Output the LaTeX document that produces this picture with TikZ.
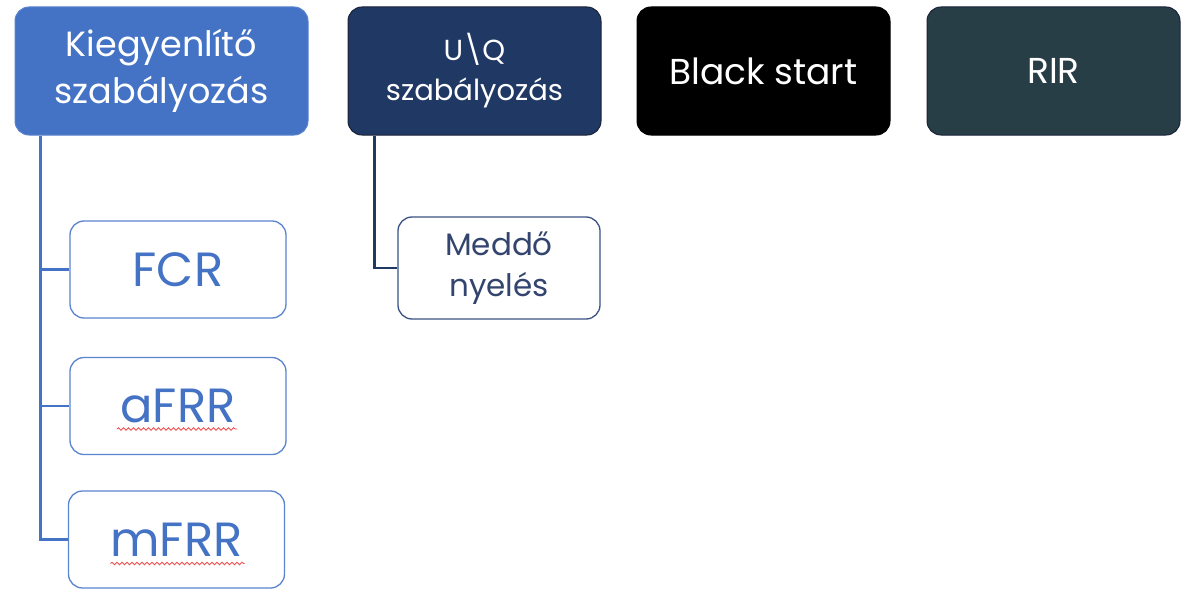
\documentclass[tikz,border=0pt]{standalone}
\usepackage{fontspec}
\setmainfont{Poppins}
\usetikzlibrary{decorations.pathmorphing}
\definecolor{cblue}{HTML}{4472C4}
\definecolor{cblueb}{HTML}{5A84CE}
\definecolor{cnavy}{HTML}{203864}
\definecolor{cnavyb}{HTML}{1A2238}
\definecolor{cslate}{HTML}{273E47}
\definecolor{cmedb}{HTML}{3A5284}
\definecolor{cmedt}{HTML}{33456E}
\definecolor{cred}{HTML}{F05050}
\tikzset{
  x=1pt, y=-1pt,
  topbox/.style={rounded corners=14pt, minimum width=#1, minimum height=128pt, align=center, text=white, inner sep=0pt, line width=1pt},
  childbox/.style={rounded corners=14pt, draw=cblueb, fill=white, text=cblue, minimum width=216pt, minimum height=97pt, align=center, inner sep=0pt, line width=1.3pt},
  conn/.style={line width=2.6pt},
  squig/.style={draw=cred, line width=0.9pt, decorate, decoration={snake, amplitude=1.2pt, segment length=5pt}}
}
\begin{document}
\begin{tikzpicture}
\useasboundingbox (0,0) rectangle (1192,594);
% top boxes
\node[topbox=293pt, fill=cblue, draw=cblueb, font=\fontsize{35}{47}\selectfont] (k) at (161.5,71)
  {Kiegyenlítő\\szabályozás};
\node[topbox=253pt, fill=cnavy, draw=cnavyb, font=\fontsize{29}{40}\selectfont] (uq) at (474.5,71)
  {U\textbackslash Q\\szabályozás};
\node[topbox=253pt, fill=black, draw=black, font=\fontsize{36}{40}\selectfont] (bs) at (763.5,71)
  {Black start};
\node[topbox=253pt, fill=cslate, draw=cnavyb, font=\fontsize{36}{40}\selectfont] (rir) at (1053.5,71)
  {RIR};
% children
\node[childbox, font=\fontsize{48}{50}\selectfont] (fcr) at (178,269.5) {FCR};
\node[childbox, font=\fontsize{48}{50}\selectfont] (afrr) at (178,406) {aFRR};
\node[childbox, font=\fontsize{48}{50}\selectfont] (mfrr) at (176.5,539.5) {mFRR};
\node[childbox, minimum width=202pt, minimum height=102pt, draw=cmedb, text=cmedt, font=\fontsize{31}{41}\selectfont] (med) at (499,268)
  {Meddő\\nyelés};
% connectors
\draw[conn, draw=cblue] ([xshift=26pt]k.south west) |- (fcr.west);
\draw[conn, draw=cblue] ([xshift=26pt]k.south west) |- (afrr.west);
\draw[conn, draw=cblue] ([xshift=26pt]k.south west) |- (mfrr.west);
\draw[conn, draw=cnavy] ([xshift=27pt]uq.south west) |- (med.west);
% spell-check underlines
\coordinate (a1) at ([xshift=-61pt,yshift=-23pt]afrr.center);
\coordinate (a2) at ([xshift=59pt,yshift=-23pt]afrr.center);
\draw[squig] (a1) -- (a2);
\coordinate (m1) at ([xshift=-66pt,yshift=-24pt]mfrr.center);
\coordinate (m2) at ([xshift=68pt,yshift=-24pt]mfrr.center);
\draw[squig] (m1) -- (m2);
\end{tikzpicture}
\end{document}
